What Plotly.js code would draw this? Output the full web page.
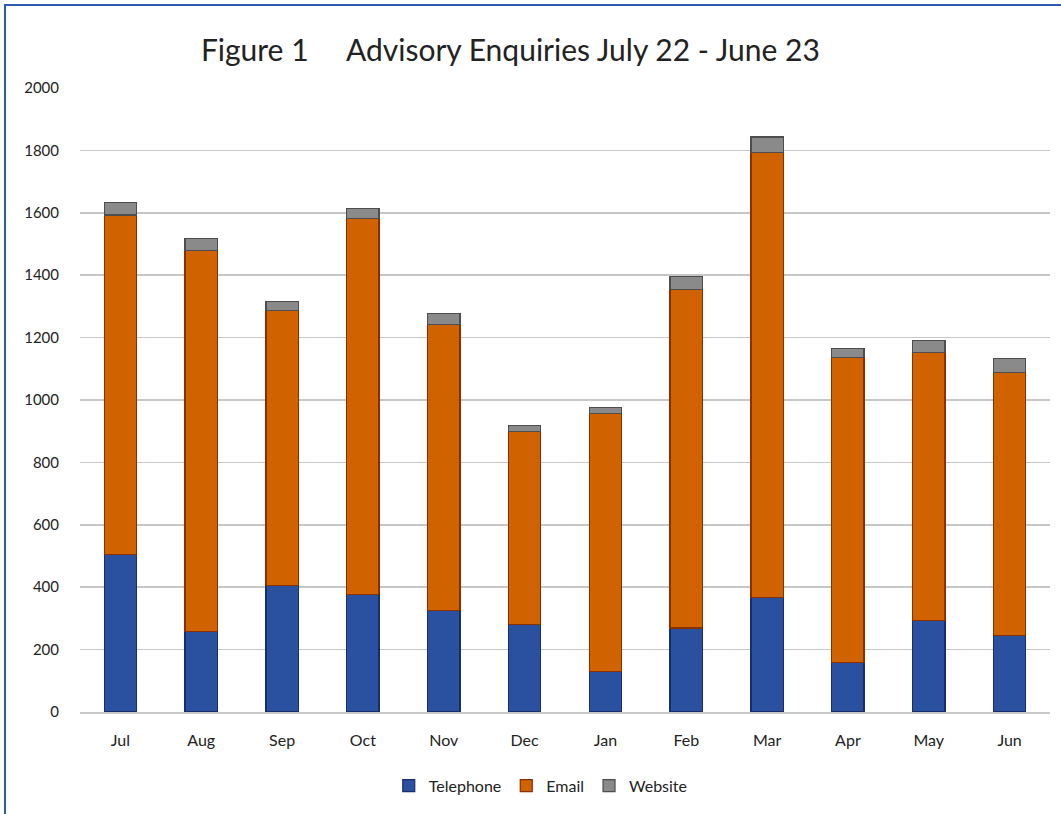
<!DOCTYPE html>
<html>
<head>
<meta charset="utf-8">
<script src="https://cdn.plot.ly/plotly-3.0.1.min.js"></script>
<style>
  html, body { margin: 0; padding: 0; background: #ffffff; }
  #wrap { position: relative; width: 1061px; height: 814px; }
  #chart { width: 1061px; height: 814px; }
  #frame { position: absolute; left: 4px; top: 4px; width: 1070px; height: 830px;
           border-left: 2px solid #2d5bb0; border-top: 2px solid #2d5bb0; pointer-events: none; }
</style>
</head>
<body>
<div id="wrap">
  <div id="chart"></div>
  <div id="frame"></div>
</div>
<script>
const months = ['Jul','Aug','Sep','Oct','Nov','Dec','Jan','Feb','Mar','Apr','May','Jun'];
const telephone = [504, 257, 406, 377, 326, 281, 131, 269, 366, 159, 293, 245];
const email     = [1089, 1221, 882, 1205, 917, 619, 827, 1084, 1428, 976, 859, 844];
const website   = [39, 39, 29, 33, 34, 19, 19, 44, 49, 29, 39, 44];
const yTicks = [0, 200, 400, 600, 800, 1000, 1200, 1400, 1600, 1800, 2000];

const fontFam = 'Lato, "Open Sans", sans-serif';

const traces = [
  { type: 'bar', name: 'Telephone', x: months, y: telephone,
    marker: { color: '#2a51a0', line: { color: '#1a2d6b', width: 1.2 } } },
  { type: 'bar', name: 'Email', x: months, y: email,
    marker: { color: '#d06200', line: { color: '#8a2f00', width: 1.2 } } },
  { type: 'bar', name: 'Website', x: months, y: website,
    marker: { color: '#8a8a8a', line: { color: '#4d4d4d', width: 1.2 } } }
];

const layout = {
  width: 1061, height: 814,
  margin: { l: 80, r: 11, t: 88, b: 102 },
  paper_bgcolor: '#ffffff', plot_bgcolor: '#ffffff',
  barmode: 'stack', bargap: 0.6,
  showlegend: true,
  title: { text: 'Figure 1&nbsp;&nbsp;&nbsp;&nbsp;&nbsp;Advisory Enquiries July 22 - June 23',
           x: 0.481, xanchor: 'center', y: 0.938, yanchor: 'middle',
           font: { family: fontFam, size: 30, color: '#222222' } },
  font: { family: fontFam, color: '#222222' },
  xaxis: { type: 'category', ticks: '', ticklabelstandoff: 13, showgrid: false,
           showline: true, linecolor: '#c8c8c8', linewidth: 1.5,
           tickfont: { family: fontFam, size: 16, color: '#222222' } },
  yaxis: { range: [0, 2000], tickvals: yTicks, ticktext: yTicks.map(String),
           showgrid: true, gridcolor: '#c6c6c6', gridwidth: 1.5,
           zeroline: false, showline: false, ticks: '', ticklabelstandoff: 20,
           tickfont: { family: fontFam, size: 15, color: '#222222' } },
  legend: { orientation: 'h', x: 0.475, xanchor: 'center', y: -0.118, yanchor: 'middle',
            font: { family: fontFam, size: 16, color: '#222222' }, traceorder: 'normal',
            itemwidth: 30 }
};

Plotly.newPlot('chart', traces, layout, { displayModeBar: false, staticPlot: true });
</script>
</body>
</html>
